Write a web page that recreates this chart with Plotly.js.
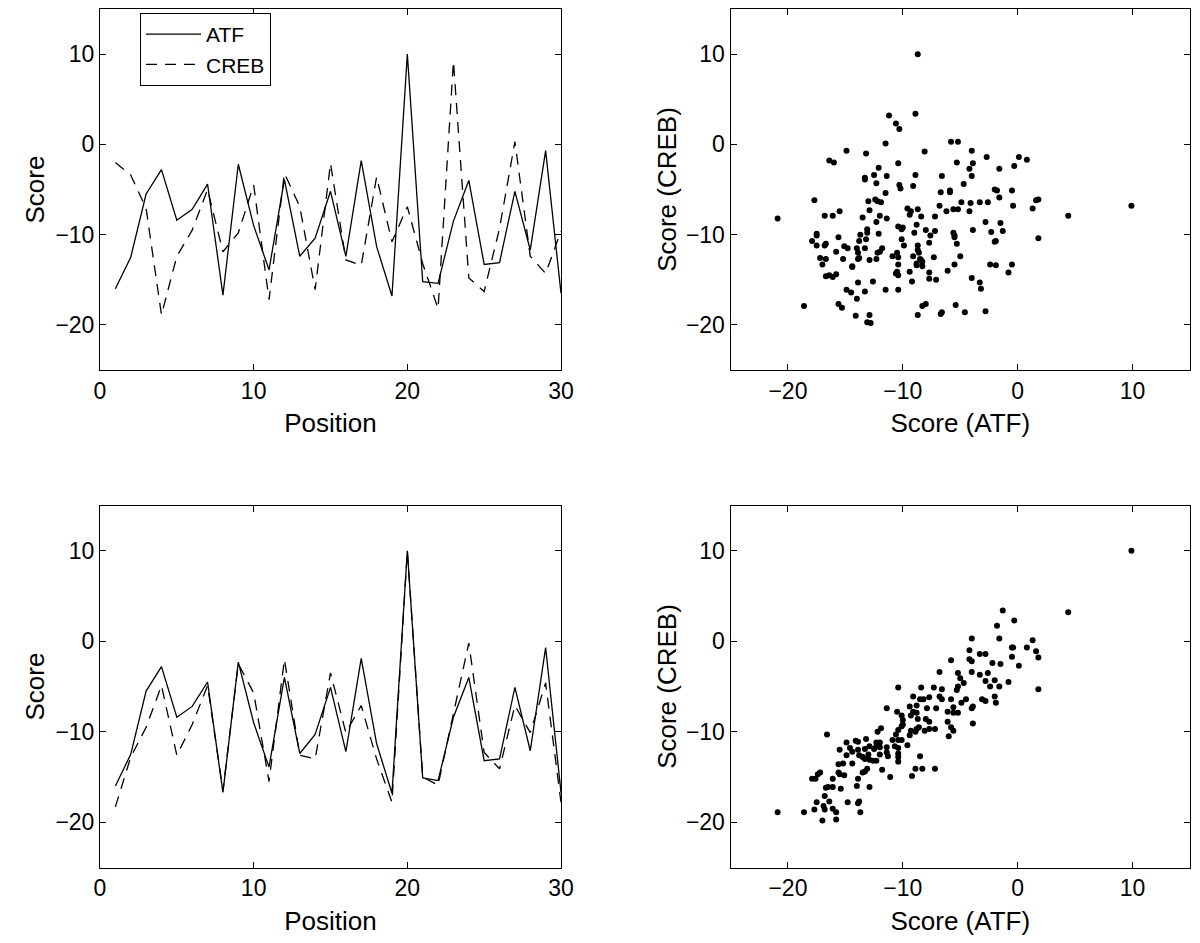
<!DOCTYPE html>
<html>
<head>
<meta charset="utf-8">
<script src="https://cdn.plot.ly/plotly-3.0.1.min.js"></script>
<style>html,body{margin:0;padding:0;background:#fff;}#plot{width:1200px;height:943px;}</style>
</head>
<body>
<div id="plot"></div>
<script>
// ---------- data ----------
const positions = [1,2,3,4,5,6,7,8,9,10,11,12,13,14,15,16,17,18,19,20,21,22,23,24,25,26,27,28,29,30];

const atfTop  = [-16.0,-12.5,-5.5,-2.8,-8.4,-7.2,-4.4,-16.7,-2.2,-9.0,-13.9,-3.9,-12.4,-10.4,-5.2,-12.4,-1.8,-11.3,-16.8,10.0,-15.2,-15.4,-8.5,-4.0,-13.3,-13.1,-5.2,-11.7,-0.7,-16.5];
const crebTop = [-2.0,-3.4,-7.1,-18.9,-12.4,-9.5,-5.0,-11.9,-9.8,-4.5,-17.2,-3.2,-6.9,-16.1,-2.1,-12.8,-13.4,-3.6,-10.8,-6.9,-13.2,-18.2,9.2,-14.8,-16.3,-9.3,0.3,-12.4,-14.3,-9.6];

const atfBot  = [-16.0,-12.5,-5.5,-2.8,-8.4,-7.2,-4.5,-16.7,-2.3,-9.0,-13.9,-4.0,-12.4,-10.3,-5.1,-12.2,-1.9,-11.3,-16.8,10.0,-15.1,-15.4,-8.4,-4.0,-13.2,-13.0,-5.1,-12.1,-0.7,-16.7];
const crebBot = [-18.3,-12.8,-9.5,-4.9,-12.6,-9.2,-4.9,-16.5,-2.5,-5.7,-15.5,-2.0,-12.6,-13.0,-3.5,-10.1,-7.1,-13.0,-17.8,10.0,-15.0,-15.9,-8.0,-0.2,-12.3,-14.1,-7.1,-10.1,-4.6,-17.8];

// scatter 1 (uncorrelated)
const scat1Atf = [-8.7,-11.2,-8.9,-10.6,-10.3,-11.5,-5.8,-5.2,-14.9,-13.2,-8.1,-4.0,-2.7,0.1,0.8,-16.4,-16.0,-10.4,-5.3,-3.9,-0.3,-12.1,-4.2,-1.6,-12.5,-8.9,-6.6,-4.0,-13.3,-11.4,-13.3,-12.3,-10.3,-9.1,-4.7,-10.2,-2.0,-1.8,-0.5,-6.7,-5.9,-5.9,-11.5,-1.6,-17.7,-12.4,-12.2,-11.9,-13.0,-4.9,-4.1,-3.3,-2.6,1.6,1.8,9.9,-0.4,1.3,-6.8,-9.6,-8.7,-9.3,-12.9,-6.2,-5.6,-5.2,-4.2,-20.9,-16.8,-16.1,-15.5,-13.5,-12.0,-11.4,-9.4,-8.4,-7.2,4.4,-12.3,-8.8,-2.8,-1.5,-10.4,-10.0,-10.1,-8.0,-7.2,-5.6,-3.9,-2.3,-1.3,-13.1,-13.1,-12.1,-13.7,-17.5,-17.5,-17.9,-17.5,-15.6,-13.2,-13.8,-10.1,-9.0,-7.6,-5.5,-5.5,1.8,-16.7,-16.8,-15.1,-14.8,-13.3,-9.9,-8.7,-7.7,-5.3,-2.0,-1.9,-11.8,-14.0,-12.0,-12.2,-15.8,-8.7,-8.6,-10.5,-13.9,-17.2,-16.7,-15.2,-13.9,-13.8,-12.9,-12.3,-10.9,-10.4,-9.1,-8.5,-8.4,-8.3,-7.3,-5.0,-17.0,-14.4,-14.4,-10.4,-8.8,-8.8,-8.3,-5.5,-2.4,-1.9,-0.5,-16.7,-16.4,-16.1,-15.8,-10.6,-10.5,-10.4,-9.4,-7.7,-6.1,-0.8,-7.7,-7.1,-4.0,-13.9,-12.6,-9.2,-3.3,-14.9,-14.5,-13.3,-11.5,-10.4,-3.2,-14.0,-15.6,-15.3,-18.6,-8.3,-8.0,-5.4,-14.1,-12.9,-8.7,-6.7,-6.6,-4.6,-2.8,-13.1,-12.8];
const scat1Creb = [10.0,3.2,3.4,2.3,1.7,0.1,0.3,0.3,-0.7,-1.0,-0.8,-0.7,-1.4,-1.4,-1.7,-1.8,-2.0,-2.1,-2.0,-2.1,-2.4,-2.6,-2.7,-2.7,-3.4,-3.4,-3.5,-3.5,-3.7,-3.5,-3.9,-4.3,-4.5,-4.6,-4.4,-4.9,-5.0,-5.1,-5.1,-5.3,-5.1,-5.3,-5.4,-5.9,-6.2,-6.1,-6.3,-6.4,-6.3,-6.4,-6.5,-6.4,-6.4,-6.2,-6.1,-6.8,-6.8,-7.1,-6.8,-7.1,-7.2,-7.4,-7.3,-7.4,-7.2,-7.2,-7.4,-8.2,-7.9,-7.9,-7.4,-8.1,-7.9,-8.2,-7.8,-8.0,-8.0,-7.9,-8.6,-8.9,-8.6,-8.7,-9.1,-9.2,-9.4,-9.5,-9.6,-9.8,-9.5,-9.7,-9.6,-9.4,-9.8,-9.9,-10.0,-9.9,-10.1,-10.7,-11.2,-10.3,-10.5,-10.7,-10.5,-9.8,-10.1,-10.1,-10.3,-10.4,-11.0,-11.2,-11.3,-11.5,-11.5,-11.2,-11.2,-10.9,-11.0,-10.8,-10.7,-11.5,-11.5,-11.9,-12.0,-11.9,-11.7,-12.0,-12.0,-12.0,-12.6,-12.7,-12.7,-12.7,-12.6,-12.8,-12.7,-12.4,-12.5,-12.4,-12.7,-12.8,-13.0,-12.5,-12.4,-13.3,-13.5,-13.6,-13.3,-13.2,-13.4,-13.5,-13.3,-13.3,-13.4,-13.3,-14.6,-14.5,-14.7,-14.4,-14.3,-14.1,-14.5,-14.1,-14.2,-14.0,-14.2,-14.9,-15.0,-14.8,-15.3,-15.2,-15.2,-15.3,-16.1,-16.4,-16.3,-16.1,-16.1,-16.0,-17.1,-17.7,-18.1,-17.9,-17.9,-17.7,-17.8,-19.0,-18.9,-18.9,-18.8,-18.6,-18.6,-18.5,-19.7,-19.8];

// scatter 2 (correlated)
const scat2Atf = [9.9,-1.3,4.4,-0.3,-1.8,-4.0,-1.6,1.3,-4.2,-3.3,-2.8,-0.5,-0.4,0.8,1.6,1.8,-4.2,-4.0,-5.8,-0.5,-1.5,-2.2,0.1,-6.8,-5.2,-4.0,-3.3,-2.6,-5.0,-4.7,-2.8,-2.0,-0.8,-10.4,-8.4,-7.3,-5.2,-5.3,-6.6,-2.4,-1.6,1.8,-9.1,-7.7,-8.5,-8.2,-6.8,-6.6,-5.8,-4.5,-3.1,-2.0,-2.8,-1.9,-4.9,-11.4,-9.4,-8.8,-7.9,-7.1,-5.6,-3.9,-4.0,-10.5,-9.1,-8.8,-6.1,-5.6,-5.2,-10.1,-9.3,-8.0,-7.7,-8.7,-6.1,-3.9,-10.0,-10.0,-10.1,-11.9,-10.4,-8.6,-8.8,-8.1,-7.7,-7.2,-5.8,-5.6,-12.2,-10.6,-9.3,-8.9,-9.4,-6.0,-16.6,-13.2,-14.1,-13.9,-14.9,-12.3,-12.0,-10.9,-10.4,-10.1,-10.7,-9.6,-15.5,-14.6,-14.4,-13.9,-13.3,-12.9,-12.5,-12.3,-12.0,-11.4,-10.4,-14.9,-13.8,-13.5,-13.3,-12.9,-12.6,-12.3,-13.0,-12.0,-11.4,-11.3,-8.5,-15.2,-14.4,-10.4,-10.4,-10.4,-15.6,-11.8,-8.9,-8.3,-7.2,-13.1,-13.3,-13.5,-9.2,-11.1,-17.2,-17.4,-15.6,-15.5,-15.1,-17.9,-17.6,-13.9,-16.1,-16.7,-16.5,-16.1,-15.4,-14.0,-12.9,-16.8,-16.4,-17.5,-14.8,-13.9,-13.8,-16.9,-16.8,-17.7,-16.1,-20.9,-18.6,-15.8,-13.7,-17.0,-15.8];
const scat2Creb = [10.0,3.4,3.2,2.3,1.7,0.3,0.3,0.1,-1.0,-1.4,-1.4,-0.7,-0.7,-0.7,-1.1,-1.8,-2.0,-2.2,-2.1,-1.7,-2.5,-2.4,-2.7,-3.4,-3.5,-3.4,-3.7,-3.5,-4.1,-4.6,-4.4,-4.3,-4.5,-5.1,-5.1,-5.1,-5.0,-5.4,-5.3,-5.0,-5.0,-5.3,-6.1,-6.2,-6.4,-6.4,-6.1,-6.4,-6.4,-6.4,-6.4,-6.1,-6.6,-6.8,-6.8,-7.4,-7.2,-7.1,-7.4,-7.4,-7.3,-7.2,-7.4,-7.8,-7.8,-7.9,-7.8,-7.9,-7.9,-8.2,-8.2,-8.6,-8.9,-8.6,-8.9,-9.1,-8.7,-9.2,-9.4,-9.6,-9.8,-9.5,-9.7,-9.9,-9.7,-9.7,-9.5,-9.9,-10.0,-10.3,-9.9,-10.0,-10.4,-10.5,-10.3,-10.8,-11.0,-11.1,-11.2,-11.2,-11.2,-10.9,-10.9,-10.9,-11.6,-11.5,-12.0,-11.8,-12.2,-12.0,-11.9,-11.6,-11.9,-11.6,-11.7,-11.7,-11.8,-12.6,-12.6,-12.8,-13.0,-13.1,-13.2,-13.2,-12.5,-12.5,-12.3,-12.7,-12.7,-13.5,-13.5,-13.3,-12.4,-12.8,-13.6,-14.2,-14.1,-14.1,-14.1,-14.1,-14.4,-14.5,-14.9,-15.0,-14.5,-14.7,-14.5,-14.7,-14.8,-15.2,-15.2,-15.2,-15.2,-16.2,-16.1,-16.1,-16.3,-16.0,-16.1,-17.1,-17.7,-17.8,-17.8,-17.9,-17.7,-18.2,-18.6,-18.6,-18.5,-18.9,-18.9,-18.9,-18.9,-19.8,-19.7];

// ---------- styling ----------
const FONT = "Liberation Sans, Arial, Helvetica, sans-serif";
const tickFont = {family: FONT, size: 23, color: "#000"};
const titleFont = {family: FONT, size: 26, color: "#000"};

function axisBase(range, dtick) {
  return {
    range: range, autorange: false, tick0: 0, dtick: dtick,
    showline: true, linecolor: "#000", linewidth: 1, mirror: "ticks",
    ticks: "inside", ticklen: 6, tickwidth: 1, tickcolor: "#000",
    showgrid: false, zeroline: false, tickfont: tickFont,
    fixedrange: true
  };
}

const dashStyle = "11px,8px";
const traces = [
  {x: positions, y: atfTop, type: "scatter", mode: "lines", name: "ATF",
   line: {color: "#000", width: 1.3}, xaxis: "x", yaxis: "y"},
  {x: positions, y: crebTop, type: "scatter", mode: "lines", name: "CREB",
   line: {color: "#000", width: 1.3, dash: dashStyle}, xaxis: "x", yaxis: "y"},
  {x: scat1Atf, y: scat1Creb, type: "scatter", mode: "markers", showlegend: false,
   marker: {color: "#000", size: 6}, xaxis: "x2", yaxis: "y2"},
  {x: positions, y: atfBot, type: "scatter", mode: "lines", showlegend: false,
   line: {color: "#000", width: 1.3}, xaxis: "x3", yaxis: "y3"},
  {x: positions, y: crebBot, type: "scatter", mode: "lines", showlegend: false,
   line: {color: "#000", width: 1.3, dash: dashStyle}, xaxis: "x3", yaxis: "y3"},
  {x: scat2Atf, y: scat2Creb, type: "scatter", mode: "markers", showlegend: false,
   marker: {color: "#000", size: 6}, xaxis: "x4", yaxis: "y4"}
];

const leftDom = [100/1200, 561/1200];
const rightDom = [730.5/1200, 1190/1200];
const topDom = [1 - 370/943, 1 - 9/943];
const botDom = [1 - 867.5/943, 1 - 505.5/943];

function xt(text){ return {text: text, font: titleFont, standoff: 11}; }
function yt(text, s){ return {text: text, font: titleFont, standoff: s}; }

const layout = {
  width: 1200, height: 943,
  margin: {l: 0, r: 0, t: 0, b: 0},
  paper_bgcolor: "#fff", plot_bgcolor: "#fff",
  showlegend: true,
  legend: {x: 140/1200, y: 1 - 13/943, xanchor: "left", yanchor: "top",
           bordercolor: "#000", borderwidth: 1, bgcolor: "#fff",
           itemwidth: 55, tracegroupgap: 0,
           font: {family: FONT, size: 21, color: "#000"}},
  xaxis:  Object.assign(axisBase([0,30],10),   {domain: leftDom,  anchor: "y",  title: xt("Position")}),
  yaxis:  Object.assign(axisBase([-25,15],10), {domain: topDom,   anchor: "x",  title: yt("Score", 3)}),
  xaxis2: Object.assign(axisBase([-25,15],10), {domain: rightDom, anchor: "y2", title: xt("Score (ATF)")}),
  yaxis2: Object.assign(axisBase([-25,15],10), {domain: topDom,   anchor: "x2", title: yt("Score (CREB)", 1)}),
  xaxis3: Object.assign(axisBase([0,30],10),   {domain: leftDom,  anchor: "y3", title: xt("Position")}),
  yaxis3: Object.assign(axisBase([-25,15],10), {domain: botDom,   anchor: "x3", title: yt("Score", 3)}),
  xaxis4: Object.assign(axisBase([-25,15],10), {domain: rightDom, anchor: "y4", title: xt("Score (ATF)")}),
  yaxis4: Object.assign(axisBase([-25,15],10), {domain: botDom,   anchor: "x4", title: yt("Score (CREB)", 1)})
};

Plotly.newPlot("plot", traces, layout, {displayModeBar: false, staticPlot: true});
</script>
</body>
</html>
